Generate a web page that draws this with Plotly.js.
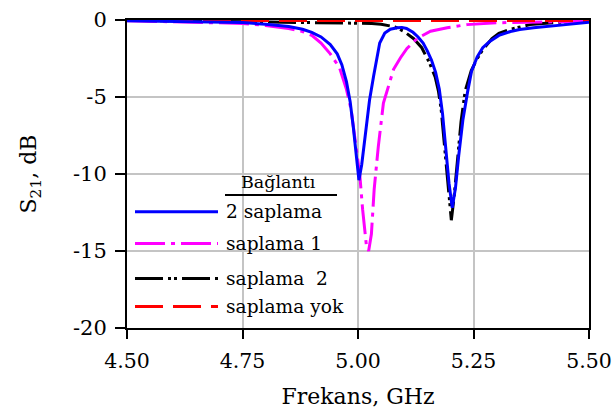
<!DOCTYPE html>
<html>
<head>
<meta charset="utf-8">
<script src="https://cdn.plot.ly/plotly-3.0.1.min.js"></script>
<style>html,body{margin:0;padding:0;background:#fff;}#chart{width:612px;height:417px;}</style>
</head>
<body>
<div id="chart"></div>
<script>
// ---- data ----
const blueF = [4.50,4.60,4.70,4.75,4.80,4.85,4.88,4.90,4.92,4.94,4.955,4.965,4.975,4.983,4.990,4.996,5.002,5.008,5.015,5.025,5.034,5.040,5.047,5.058,5.070,5.085,5.095,5.105,5.119,5.130,5.141,5.150,5.159,5.168,5.176,5.183,5.190,5.197,5.204,5.211,5.218,5.227,5.237,5.246,5.258,5.270,5.285,5.305,5.33,5.35,5.38,5.41,5.45,5.50];
const blueS = [-0.05,-0.08,-0.13,-0.17,-0.27,-0.42,-0.6,-0.8,-1.1,-1.6,-2.2,-2.9,-4.0,-5.3,-7.0,-8.9,-10.4,-9.4,-7.5,-5.2,-3.6,-2.5,-1.5,-0.85,-0.6,-0.5,-0.48,-0.55,-0.8,-1.1,-1.5,-2.0,-2.6,-3.4,-4.5,-6.1,-8.3,-10.6,-12.2,-10.9,-8.8,-6.5,-4.7,-3.3,-2.4,-1.8,-1.4,-1.0,-0.75,-0.62,-0.5,-0.4,-0.3,-0.15];

const magF = [4.50,4.60,4.70,4.75,4.80,4.85,4.88,4.90,4.92,4.94,4.96,4.975,4.985,4.993,5.004,5.010,5.018,5.023,5.029,5.035,5.044,5.055,5.066,5.077,5.092,5.106,5.128,5.157,5.193,5.236,5.30,5.40,5.50];
const magS = [-0.05,-0.1,-0.17,-0.22,-0.35,-0.55,-0.75,-1.0,-1.5,-2.2,-3.1,-4.5,-5.8,-7.5,-10.1,-12.3,-14.6,-15.0,-13.9,-11.0,-8.2,-5.4,-4.3,-3.2,-2.45,-1.85,-1.2,-0.73,-0.5,-0.3,-0.18,-0.12,-0.08];

const blkF = [4.50,4.60,4.70,4.80,4.90,4.95,5.00,5.03,5.05,5.08,5.10,5.12,5.138,5.155,5.167,5.174,5.180,5.187,5.194,5.202,5.208,5.215,5.223,5.232,5.245,5.258,5.271,5.29,5.305,5.33,5.35,5.372,5.40,5.44,5.50];
const blkS = [-0.02,-0.05,-0.08,-0.12,-0.15,-0.18,-0.2,-0.22,-0.27,-0.45,-0.75,-1.2,-1.8,-2.8,-3.7,-4.6,-5.8,-8.0,-10.5,-13.0,-11.5,-9.0,-6.6,-4.6,-3.3,-2.5,-1.9,-1.2,-0.86,-0.6,-0.45,-0.3,-0.22,-0.14,-0.08];

const redF = [4.50,4.75,5.00,5.25,5.50];
const redS = [-0.03,-0.03,-0.04,-0.03,-0.03];

const legendTitle = 'Bağlantı';
const legendLabels = ['2 saplama', 'saplama 1', 'saplama\u00a0 2', 'saplama yok'];
const xTickVals = [4.50, 4.75, 5.00, 5.25, 5.50];
const xTickText = ['4.50', '4.75', '5.00', '5.25', '5.50'];
const yTickVals = [0, -5, -10, -15, -20];
const yTickText = ['0', '-5', '-10', '-15', '-20'];

// ---- styles ----
const FONT = 'DejaVu Serif, Liberation Serif, serif';
const styles = [
  {color: '#0000ff', dash: 'solid'},
  {color: '#ff00ff', dash: '30px,6px,4px,6px'},
  {color: '#000000', dash: '28px,5px,3px,3px,3px,5px'},
  {color: '#ff0000', dash: '28px,10px'}
];
const W = 612, H = 417;
const M = {l: 127, r: 23, t: 20, b: 89};
const PW = W - M.l - M.r, PH = H - M.t - M.b;
const px2x = p => (p - M.l) / PW;
const py2y = p => 1 - (p - M.t) / PH;

const series = [
  {x: blueF, y: blueS},
  {x: magF, y: magS},
  {x: blkF, y: blkS},
  {x: redF, y: redS}
];
const drawOrder = [2, 1, 3, 0];
const traces = drawOrder.map(i => ({
  x: series[i].x, y: series[i].y, type: 'scatter', mode: 'lines',
  name: legendLabels[i], showlegend: false,
  line: {color: styles[i].color, width: 3, dash: styles[i].dash}
}));

// manual legend
const legRowY = [211.7, 243.5, 278.5, 306.5];
const shapes = [{
  type: 'line', xref: 'paper', yref: 'paper',
  x0: px2x(225), x1: px2x(337), y0: py2y(195), y1: py2y(195),
  line: {color: '#000', width: 2}
}];
const annotations = [{
  text: legendTitle, xref: 'paper', yref: 'paper', x: px2x(278), y: py2y(182),
  xanchor: 'center', yanchor: 'middle', showarrow: false,
  font: {family: FONT, size: 17.5, color: '#000'}
}];
legendLabels.forEach((lab, i) => {
  shapes.push({
    type: 'line', xref: 'paper', yref: 'paper',
    x0: px2x(135), x1: px2x(218), y0: py2y(legRowY[i]), y1: py2y(legRowY[i]),
    line: {color: styles[i].color, width: 3, dash: styles[i].dash}
  });
  annotations.push({
    text: lab, xref: 'paper', yref: 'paper', x: px2x(224), y: py2y(legRowY[i]),
    xanchor: 'left', yanchor: 'middle', showarrow: false,
    font: {family: FONT, size: 18.6, color: '#000'}
  });
});

const layout = {
  width: W, height: H,
  margin: M,
  paper_bgcolor: '#ffffff', plot_bgcolor: '#ffffff',
  font: {family: FONT, size: 19, color: '#000'},
  showlegend: false,
  xaxis: {
    range: [4.5, 5.5], tickvals: xTickVals, ticktext: xTickText,
    showgrid: true, gridcolor: '#c4c4c4', gridwidth: 2,
    zeroline: false, showline: true, linecolor: '#000', linewidth: 2, mirror: true,
    ticks: 'outside', ticklen: 9, tickwidth: 2, tickcolor: '#000',
    ticklabelstandoff: 4, ticklabeloverflow: 'allow',
    tickfont: {family: FONT, size: 20.5, color: '#000'},
    title: {text: 'Frekans, GHz', font: {family: FONT, size: 22, color: '#000'}, standoff: 17}
  },
  yaxis: {
    range: [-20, 0], tickvals: yTickVals, ticktext: yTickText,
    showgrid: true, gridcolor: '#c4c4c4', gridwidth: 2,
    zeroline: false, showline: true, linecolor: '#000', linewidth: 2, mirror: true,
    ticks: 'outside', ticklen: 10, tickwidth: 2, tickcolor: '#000',
    ticklabelstandoff: 4, ticklabeloverflow: 'allow',
    tickfont: {family: FONT, size: 21, color: '#000'},
    title: {text: 'S<sub>21</sub>, dB', font: {family: FONT, size: 22, color: '#000'}, standoff: 30}
  },
  shapes: shapes,
  annotations: annotations
};

Plotly.newPlot('chart', traces, layout, {displayModeBar: false, staticPlot: true});
</script>
</body>
</html>
